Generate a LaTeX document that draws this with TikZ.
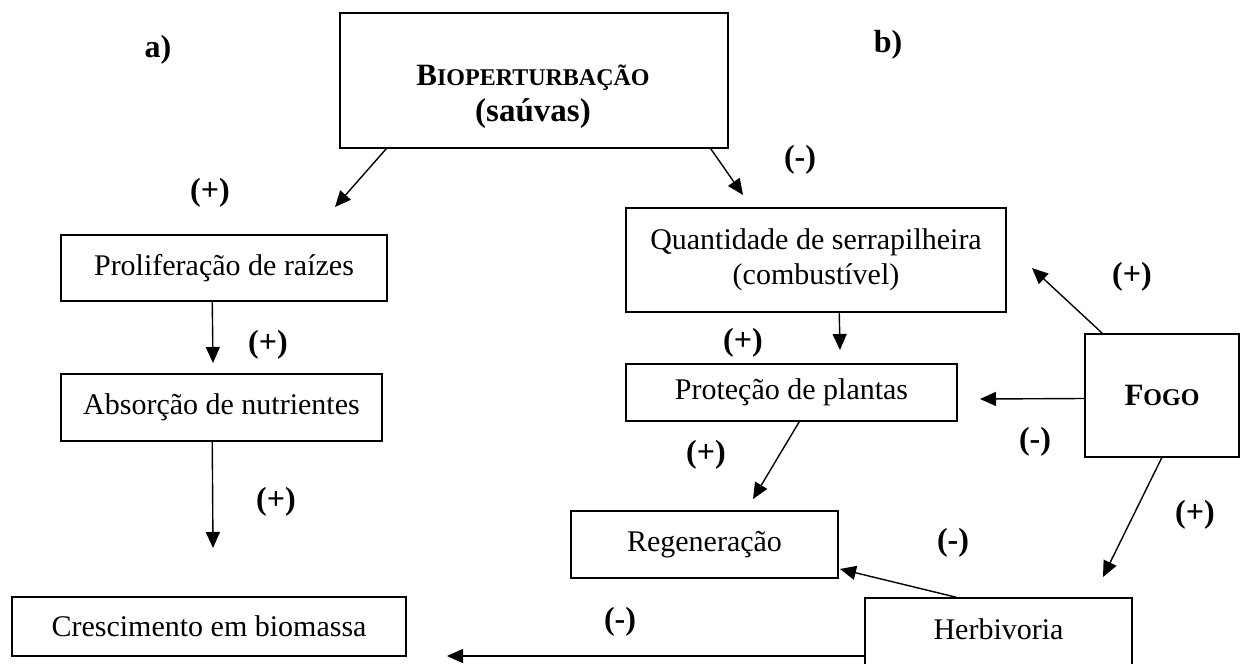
\documentclass[tikz,border=0pt]{standalone}
\usepackage{fontspec}
\setmainfont{Liberation Serif}
\usetikzlibrary{arrows.meta}
\tikzset{
  x=1pt,y=-1pt,
  box/.style={draw,line width=1.5pt,inner sep=0pt,font=\fontsize{30}{35}\selectfont},
  sign/.style={font=\bfseries\fontsize{32}{36}\selectfont,inner sep=0pt},
  arr/.style={line width=1.4pt,-{Triangle[length=16pt,width=14pt]}},
}
\newcommand{\bigsc}[2]{{\fontsize{31}{36}\selectfont #1}{\fontsize{24}{36}\selectfont #2}}
\begin{document}
\begin{tikzpicture}
\clip (0,0) rectangle (1245,664);
\fill[white] (0,0) rectangle (1245,664);
% boxes
\node[box,minimum width=388pt,minimum height=135pt] (bio) at (534,80.5) {};
\node[font=\bfseries\fontsize{31}{36}\selectfont,align=center,inner sep=0pt] (biotext) at (533,97) {\bigsc{B}{IOPERTURBAÇÃO}\\{\fontsize{33}{36}\selectfont (saúvas)}};
\node[box,minimum width=326pt,minimum height=66pt] (prolif) at (224,268) {Proliferação de raízes};
\node[box,minimum width=321pt,minimum height=67pt] (absorc) at (221.5,407.5) {Absorção de nutrientes};
\node[box,minimum width=394pt,minimum height=59pt] (cresc) at (209,626.5) {Crescimento em biomassa};
\node[box,minimum width=380pt,minimum height=104pt,align=center] (quant) at (816,260) {Quantidade de serrapilheira\\(combustível)};
\node[box,minimum width=331pt,minimum height=57pt] (prot) at (791.5,392.5) {Proteção de plantas};
\node[box,minimum width=154pt,minimum height=123pt,font=\bfseries] (fogo) at (1162,395.5) {\bigsc{F}{OGO}};
\node[box,minimum width=267pt,minimum height=67pt] (regen) at (704.5,544.5) {\raisebox{4pt}{Regeneração}};
\node[box,minimum width=267pt,minimum height=102pt,text depth=0pt] (herb) at (998.5,649) {\raisebox{40pt}{Herbivoria}};
% arrow tips
\coordinate (t1) at (335,207);
\coordinate (t2) at (743,195);
\coordinate (t3) at (213,363);
\coordinate (t4) at (213,548);
\coordinate (t5) at (840,350);
\coordinate (t6) at (980,399);
\coordinate (t7) at (1032,268);
\coordinate (t8) at (1103,577);
\coordinate (t9) at (753,499);
\coordinate (t10) at (840,569);
\coordinate (t11) at (447,656);
% connectors
\draw[arr] ([xshift=47pt]bio.south west) -- (t1);
\draw[arr] ([xshift=-18pt]bio.south east) -- (t2);
\draw[arr] ([xshift=152pt]prolif.south west) -- (t3);
\draw[arr] ([xshift=152pt]absorc.south west) -- (t4);
\draw[arr] ([xshift=214pt]quant.south west) -- (t5);
\draw[arr] ([yshift=-3pt]fogo.west) -- (t6);
\draw[arr] ([xshift=18pt]fogo.north west) -- (t7);
\draw[arr] ([xshift=-78pt]fogo.south east) -- (t8);
\draw[arr] ([xshift=174pt]prot.south west) -- (t9);
\draw[arr] ([xshift=92pt]herb.north west) -- (t10);
\draw[arr] ([yshift=-7pt]herb.west) -- (t11);
% labels
\node[sign] (la) at (158,50) {a)};
\node[sign] (lb) at (888,45) {b)};
\node[sign] (s1) at (210,193) {(+)};
\node[sign] (s2) at (800,160) {(-)};
\node[sign] (s3) at (268,345) {(+)};
\node[sign] (s4) at (743,343) {(+)};
\node[sign] (s5) at (1132,277) {(+)};
\node[sign] (s6) at (1035,442) {(-)};
\node[sign] (s7) at (706,455) {(+)};
\node[sign] (s8) at (276,502) {(+)};
\node[sign] (s9) at (1195,515) {(+)};
\node[sign] (s10) at (953,543) {(-)};
\node[sign] (s11) at (620,622) {(-)};
\end{tikzpicture}
\end{document}
